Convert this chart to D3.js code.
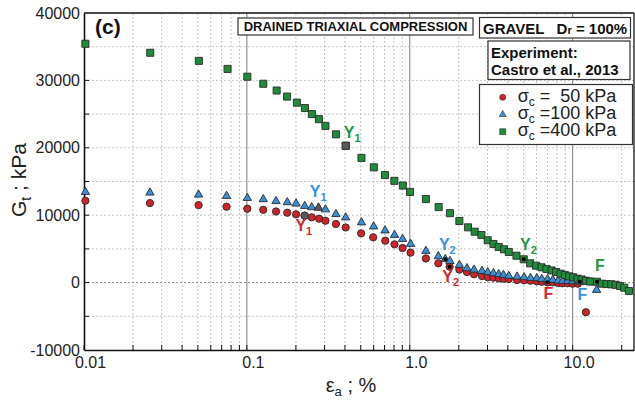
<!DOCTYPE html>
<html>
<head>
<meta charset="utf-8">
<script src="https://cdn.jsdelivr.net/npm/d3@7"></script>
<style>
  body { margin: 0; background: #fff; }
  svg { display: block; font-family: "Liberation Sans", Arial, sans-serif; }
  text { white-space: pre; }
</style>
</head>
<body>
<svg width="635" height="401"></svg>
<script>
// sigma_c = 50 kPa (red circles)
const strain50 = [0.0102,0.0254,0.0505,0.075,0.1006,0.126,0.151,0.177,0.2004,0.2264,0.2499,0.2776,0.3035,0.352,0.404,0.503,0.596,0.707,0.806,0.903,1.011,1.256,1.497,1.757,2.016,2.245,2.479,2.776,3.009,3.263,3.516,3.758,4.052,4.557,5.03,5.51,6.024,6.466,7.008,7.555,8.145,8.667,9.304,9.986,10.76,12.06];
const gt50 = [12150,11800,11500,11260,10960,10800,10550,10370,10130,9930,9690,9480,9180,8690,8180,7310,6720,6220,5680,5130,4440,3580,2860,2360,1940,1570,1230,980,790,730,640,580,530,390,340,280,190,130,40,40,-60,-100,-100,-160,-160,-4400];

// sigma_c = 100 kPa (blue triangles)
const strain100 = [0.0102,0.0254,0.0505,0.075,0.1006,0.126,0.151,0.177,0.2004,0.2264,0.2499,0.275,0.3035,0.352,0.404,0.505,0.6,0.705,0.806,0.903,1.011,1.256,1.497,1.653,1.765,2.016,2.245,2.479,2.776,3.009,3.263,3.516,3.758,4.052,4.557,5.03,5.51,6.024,6.466,7.008,7.555,8.145,8.667,9.304,9.986,11.07,12.11,13.07,14.03];
const gt100 = [13440,13340,13040,12850,12550,12360,12080,11910,11710,11360,11170,11110,10850,10150,9660,8920,8320,7730,7060,6470,5730,4690,3900,3470,3200,2610,2120,1910,1720,1530,1380,1230,1130,980,880,790,680,640,530,490,390,280,240,240,190,130,130,40,-1100];

// sigma_c = 400 kPa (green squares)
const strain400 = [0.0102,0.0255,0.0507,0.0761,0.1006,0.1261,0.1523,0.1765,0.2027,0.2271,0.2506,0.2768,0.3035,0.3522,0.4046,0.5052,0.6015,0.705,0.8042,0.907,1.004,1.256,1.504,1.765,2.016,2.277,2.503,2.753,3.009,3.263,3.516,3.79,4.052,4.519,5.01,5.478,5.965,6.438,6.911,7.418,7.914,8.427,8.954,9.517,10.07,10.72,11.34,12.06,12.81,14.09,15.12,16.16,17.25,18.35,19.51,20.73,22.16];
const gt400 = [35440,34100,32900,31700,30550,29500,28500,27600,26700,25900,25000,24250,23250,22000,20300,18500,17100,15950,15100,14400,13450,12400,11200,10300,9140,8200,7550,7060,6280,5730,5280,4940,4540,3990,3460,2860,2510,2270,2020,1800,1570,1320,1130,930,790,580,460,280,160,130,-160,-210,-250,-330,-500,-760,-1250];

const seriesNames = ['50', '100', '400'];
const legendLabels = [' =  50 kPa', ' =100 kPa', ' =400 kPa'];

// Y1 / Y2 / F markers: series and point index
const keyPoints = [
  {series: '50', tag: 'Y', sub: '1', index: 9},
  {series: '50', tag: 'Y', sub: '2', index: 23},
  {series: '50', tag: 'F', sub: '', index: 38},
  {series: '100', tag: 'Y', sub: '1', index: 11},
  {series: '100', tag: 'Y', sub: '2', index: 23},
  {series: '100', tag: 'F', sub: '', index: 45},
  {series: '400', tag: 'Y', sub: '1', index: 14},
  {series: '400', tag: 'Y', sub: '2', index: 34},
  {series: '400', tag: 'F', sub: '', index: 49}
];

const xTicks = [0.01, 0.1, 1, 10];
const xTickLabels = ['0.01', '0.1', '1.0', '10.0'];
const yTicks = [-10000, 0, 10000, 20000, 30000, 40000];
const yTickLabels = ['-10000', '0', '10000', '20000', '30000', '40000'];

const svg = d3.select('svg');
const width = +svg.attr('width');
const height = +svg.attr('height');
const margin = {top: 13, right: 1, bottom: 51, left: 84};
const innerWidth = width - margin.left - margin.right;
const innerHeight = height - margin.top - margin.bottom;

const xScale = d3.scaleLog().domain([0.01, 23.8]).range([0, innerWidth]);
const yScale = d3.scaleLinear().domain([-10000, 40000]).range([innerHeight, 0]);

const series = {
  '50': {x: strain50, y: gt50, shape: d3.symbolCircle, size: 42, fill: '#cf2229', text: '#d3262b'},
  '100': {x: strain100, y: gt100, shape: d3.symbolTriangle, size: 30, fill: '#3a8fd6', text: '#3992dc'},
  '400': {x: strain400, y: gt400, shape: d3.symbolSquare, size: 50, fill: '#1f8b3b', text: '#24953f'}
};

const g = svg.append('g')
  .attr('transform', `translate(${margin.left},${margin.top})`);

// grid
const minorX = xScale.ticks().filter(d => !xTicks.includes(+d.toPrecision(3)));
g.selectAll('.vgrid').data(minorX)
  .enter().append('line')
    .attr('x1', d => xScale(d)).attr('x2', d => xScale(d))
    .attr('y1', 0).attr('y2', innerHeight)
    .attr('stroke', '#b5b5b5').attr('stroke-width', 0.8)
    .attr('stroke-dasharray', '2,2');

g.selectAll('.vmajor').data(xTicks.slice(1))
  .enter().append('line')
    .attr('x1', d => xScale(d)).attr('x2', d => xScale(d))
    .attr('y1', 0).attr('y2', innerHeight)
    .attr('stroke', '#6e6e6e').attr('stroke-width', 0.9);

const yGrid = d3.range(-5000, 40000, 5000);
g.selectAll('.hgrid').data(yGrid)
  .enter().append('line')
    .attr('x1', 0).attr('x2', innerWidth)
    .attr('y1', d => yScale(d)).attr('y2', d => yScale(d))
    .attr('stroke', d => d === 0 ? '#8a8a8a' : '#b5b5b5')
    .attr('stroke-width', d => d === 0 ? 1 : 0.8)
    .attr('stroke-dasharray', '2,2');

// inward ticks
g.selectAll('.xtick').data(xScale.ticks())
  .enter().append('line')
    .attr('x1', d => xScale(d)).attr('x2', d => xScale(d))
    .attr('y1', innerHeight).attr('y2', innerHeight - 5)
    .attr('stroke', '#111');
g.selectAll('.ytick').data(yGrid)
  .enter().append('line')
    .attr('x1', 0).attr('x2', 5)
    .attr('y1', d => yScale(d)).attr('y2', d => yScale(d))
    .attr('stroke', '#111');

// frame
g.append('line').attr('x1', 0).attr('x2', innerWidth).attr('y1', 0).attr('y2', 0)
  .attr('stroke', '#111').attr('stroke-width', 1.3);
g.append('line').attr('x1', innerWidth).attr('x2', innerWidth).attr('y1', 0).attr('y2', innerHeight)
  .attr('stroke', '#111').attr('stroke-width', 1.3);

// axes
const yAxisG = g.append('g').call(
  d3.axisLeft(yScale).tickValues(yTicks)
    .tickFormat((d, i) => yTickLabels[i]).tickSize(0).tickPadding(4));
yAxisG.select('.domain').attr('stroke', '#111').attr('stroke-width', 1.6);
yAxisG.selectAll('text').attr('font-size', 16).attr('fill', '#222')
  .attr('font-family', '"Liberation Sans", Arial, sans-serif');

const xAxisG = g.append('g').attr('transform', `translate(0,${innerHeight})`).call(
  d3.axisBottom(xScale).tickValues(xTicks)
    .tickFormat((d, i) => xTickLabels[i]).tickSize(0).tickPadding(6.5));
xAxisG.select('.domain').attr('stroke', '#111').attr('stroke-width', 1.6);
xAxisG.selectAll('text').attr('font-size', 16).attr('fill', '#222').attr('dx', 6)
  .attr('font-family', '"Liberation Sans", Arial, sans-serif');

// axis labels
const yLabel = svg.append('text')
  .attr('transform', 'translate(26,180) rotate(-90)')
  .attr('text-anchor', 'middle').attr('font-size', 21).attr('fill', '#222');
yLabel.append('tspan').text('G');
yLabel.append('tspan').attr('font-size', 14).attr('dy', 5).text('t');
yLabel.append('tspan').attr('dy', -5).text(' ; kPa');

const xLabel = svg.append('text')
  .attr('x', 351).attr('y', 392)
  .attr('text-anchor', 'middle').attr('font-size', 20).attr('fill', '#222');
xLabel.append('tspan').text('ε');
xLabel.append('tspan').attr('font-size', 13).attr('dy', 4).text('a');
xLabel.append('tspan').attr('dy', -4).text(' ; %');

// data points
seriesNames.forEach(name => {
  const s = series[name];
  const pts = s.x.map((x, i) => ({x, y: s.y[i]}));
  g.append('g').selectAll('path').data(pts)
    .enter().append('path')
      .attr('transform', d => `translate(${xScale(d.x)},${yScale(d.y)})`)
      .attr('d', d3.symbol().type(s.shape).size(s.size))
      .attr('fill', s.fill)
      .attr('stroke', '#2b2b2b')
      .attr('stroke-width', 0.9);
});

// key points: Y1 grey marker, Y2 / F black dot
const labelNudge = {
  '50Y1': [-9.3, 15], '50Y2': [-7.3, 15], '50F': [-4, 16.7],
  '100Y1': [-8.7, -10.4], '100Y2': [-6.4, -9.2], '100F': [-2.3, 18.3],
  '400Y1': [-2, -7.4], '400Y2': [-3.7, -9.3], '400F': [-2, -11]
};

keyPoints.forEach(k => {
  const s = series[k.series];
  const px = xScale(s.x[k.index]);
  const py = yScale(s.y[k.index]);
  if (k.sub === '1') {
    g.append('path')
      .attr('transform', `translate(${px},${py})`)
      .attr('d', d3.symbol().type(s.shape).size(s.size))
      .attr('fill', '#5a5a5a').attr('stroke', '#333').attr('stroke-width', 0.9);
  } else {
    g.append('circle').attr('cx', px).attr('cy', py).attr('r', 2).attr('fill', '#000');
  }
  const nudge = labelNudge[k.series + k.tag + k.sub];
  const t = g.append('text')
    .attr('x', px + nudge[0]).attr('y', py + nudge[1])
    .attr('font-size', 16).attr('font-weight', 'bold').attr('fill', s.text);
  t.append('tspan').text(k.tag);
  if (k.sub) t.append('tspan').attr('font-size', 11).attr('dy', 4).text(k.sub);
});

// panel tag
svg.append('text').attr('x', 95).attr('y', 34)
  .attr('font-size', 21).attr('font-weight', 'bold').attr('fill', '#111').text('(c)');

// boxes
const box = (x, y, w, h) => svg.append('rect')
  .attr('x', x).attr('y', y).attr('width', w).attr('height', h)
  .attr('fill', '#fff').attr('stroke', '#333').attr('stroke-width', 1.2);

box(238, 18, 235, 17);
svg.append('text').attr('x', 355.5).attr('y', 31).attr('text-anchor', 'middle')
  .attr('font-size', 13).attr('font-weight', 'bold').attr('fill', '#111')
  .text('DRAINED TRIAXIAL COMPRESSION');

box(479.5, 17.5, 151, 20.5);
const grav = svg.append('text').attr('x', 483).attr('y', 34)
  .attr('font-size', 15).attr('font-weight', 'bold').attr('fill', '#111');
grav.append('tspan').text('GRAVEL   D');
grav.append('tspan').attr('font-size', 11).text('r');
grav.append('tspan').text(' = 100%');

box(488, 41, 142, 38.5);
svg.append('text').attr('x', 491).attr('y', 57.5)
  .attr('font-size', 15).attr('font-weight', 'bold').attr('fill', '#111').text('Experiment:');
svg.append('text').attr('x', 491).attr('y', 75)
  .attr('font-size', 15).attr('font-weight', 'bold').attr('fill', '#111').text('Castro et al., 2013');

// legend
box(479.5, 84.5, 153, 60);
seriesNames.forEach((name, i) => {
  const s = series[name];
  const cy = 97.3 + i * 17.2;
  svg.append('path')
    .attr('transform', `translate(502.7,${cy})`)
    .attr('d', d3.symbol().type(s.shape).size(s.size * 0.7))
    .attr('fill', s.fill).attr('stroke', '#2b2b2b').attr('stroke-width', 0.6);
  const t = svg.append('text').attr('x', 517.7).attr('y', cy + 4.5)
    .attr('font-size', 18).attr('fill', '#222');
  t.append('tspan').text('σ');
  t.append('tspan').attr('font-size', 12).attr('dy', 4).text('c');
  t.append('tspan').attr('dy', -4).text(legendLabels[i]);
});
</script>
</body>
</html>
